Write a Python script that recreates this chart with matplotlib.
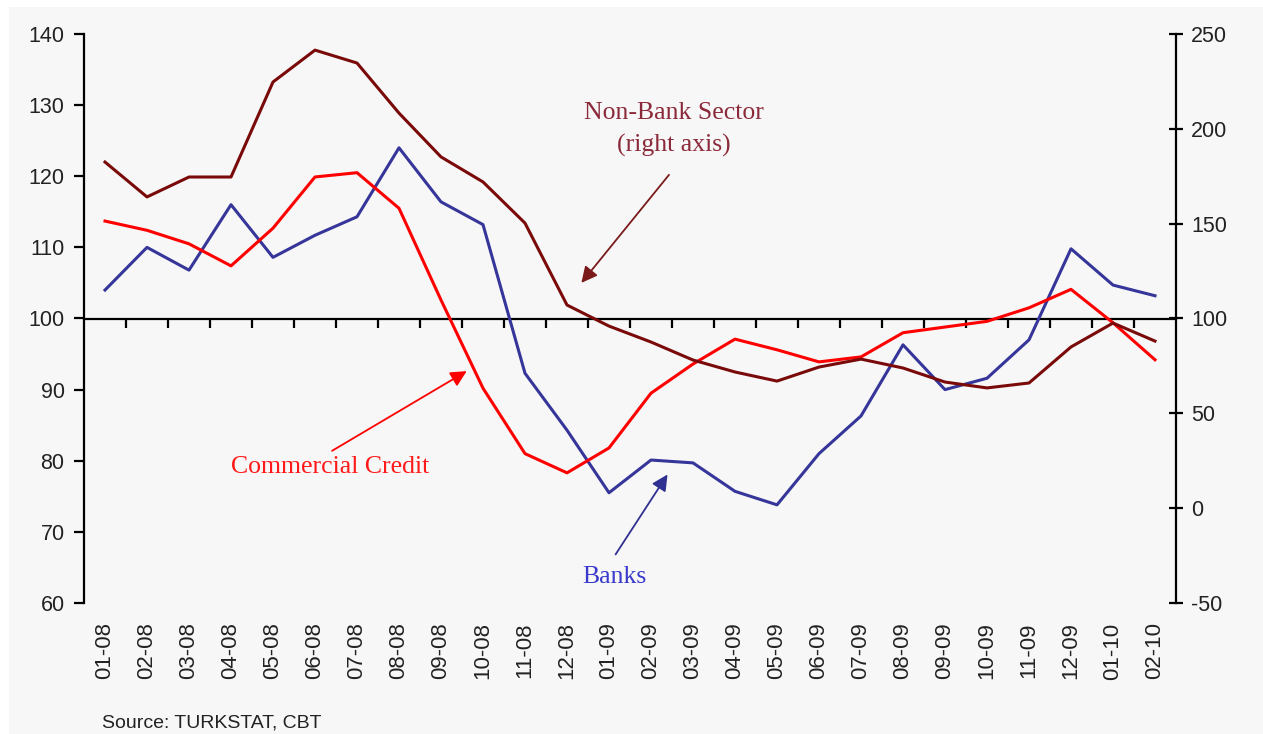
import matplotlib.pyplot as plt
import numpy as np
from matplotlib.patches import Rectangle

plt.rcParams["axes.unicode_minus"] = False

months = ["01-08", "02-08", "03-08", "04-08", "05-08", "06-08", "07-08", "08-08",
          "09-08", "10-08", "11-08", "12-08", "01-09", "02-09", "03-09", "04-09",
          "05-09", "06-09", "07-09", "08-09", "09-09", "10-09", "11-09", "12-09",
          "01-10", "02-10"]

# left axis
banks = [104.0, 110.0, 106.8, 116.0, 108.6, 111.7, 114.3, 124.0,
         116.4, 113.2, 92.3, 84.3, 75.5, 80.1, 79.7, 75.7,
         73.8, 81.0, 86.3, 96.3, 90.0, 91.6, 97.0, 109.8,
         104.7, 103.2]
commercial = [113.7, 112.4, 110.5, 107.4, 112.7, 119.9, 120.5, 115.5,
              102.6, 90.2, 81.0, 78.3, 81.8, 89.5, 93.6, 97.1,
              95.6, 93.9, 94.6, 98.0, 98.8, 99.6, 101.5, 104.1,
              99.4, 94.2]
# right axis
non_bank = [182.5, 164.1, 174.6, 174.6, 224.7, 241.5, 234.7, 208.3,
            185.2, 172.0, 150.3, 107.1, 96.0, 87.6, 78.1, 71.8,
            67.0, 74.4, 78.6, 73.9, 66.5, 63.4, 66.0, 85.0,
            97.6, 88.1]

left_ticks = np.arange(60, 141, 10)
right_ticks = np.arange(-50, 251, 50)

x = np.arange(len(months))

fig = plt.figure(figsize=(12.63, 7.34), dpi=100)
fig.patch.set_facecolor("white")
fig.patches.append(Rectangle((9 / 1263, 0), 1, 1 - 7 / 734, transform=fig.transFigure,
                             facecolor="#f7f7f7", edgecolor="none", zorder=-10))

ax = fig.add_axes([84 / 1263, 1 - 603 / 734, (1176 - 84) / 1263, (603 - 34) / 734])
ax.set_facecolor("none")
ax2 = ax.twinx()

ax.plot(x, banks, color="#35359a", lw=2.2, zorder=3)
ax.plot(x, commercial, color="#ff0000", lw=2.2, zorder=3)
ax2.plot(x, non_bank, color="#7a0a0a", lw=2.2, zorder=3)

ax.set_xlim(-0.5, len(months) - 0.5)
ax.set_ylim(60, 140)
ax2.set_ylim(-50, 250)
ax.set_yticks(left_ticks)
ax2.set_yticks(right_ticks)

for a in (ax, ax2):
    for s in ("top", "bottom"):
        a.spines[s].set_visible(False)
    a.spines["left"].set_linewidth(1.6)
    a.spines["right"].set_linewidth(1.6)
ax.spines["right"].set_visible(False)
ax2.spines["left"].set_visible(False)

ax.set_xticks(x)
ax.set_xticklabels(months, rotation=90, fontsize=16, family="Liberation Sans", color="#222222")
ax.tick_params(axis="x", length=0, pad=14)
ax.tick_params(axis="y", direction="out", length=7, width=1.6, pad=7,
               labelsize=15.5, labelcolor="#222222")
ax2.tick_params(axis="y", direction="inout", length=9.5, width=1.6, pad=6,
                labelsize=15.5, labelcolor="#222222")
for lbl in ax.get_yticklabels() + ax2.get_yticklabels():
    lbl.set_family("Liberation Sans")

# horizontal axis line at 100 with ticks between months
secax = ax.secondary_xaxis(0.5)
secax.set_alignment("bottom")
secax.spines["bottom"].set_linewidth(1.6)
secax.set_xticks(np.arange(0.5, len(months) - 1, 1))
secax.tick_params(axis="x", direction="out", length=6.5, width=1.6, labelbottom=False)

serif = "Liberation Serif"
ax.text(13.55, 126.6, "Non-Bank Sector\n(right axis)", ha="center", va="center",
        fontsize=18.5, family=serif, color="#8b2a3a", linespacing=1.55)
ax.annotate("", xy=(11.3, 104.7), xytext=(13.47, 120.5),
            arrowprops=dict(arrowstyle="-|>", color="#7a1a1a", lw=1.3, mutation_scale=24))

ax.text(5.35, 79.1, "Commercial Credit", ha="center", va="center",
        fontsize=18.5, family=serif, color="#ff1a1a")
ax.annotate("", xy=(8.67, 92.8), xytext=(5.35, 81.2),
            arrowprops=dict(arrowstyle="-|>", color="#ff0000", lw=1.3, mutation_scale=24))

ax.text(12.12, 63.6, "Banks", ha="center", va="center",
        fontsize=18.5, family=serif, color="#3a3acc")
ax.annotate("", xy=(13.43, 78.4), xytext=(12.12, 66.5),
            arrowprops=dict(arrowstyle="-|>", color="#303090", lw=1.3, mutation_scale=24))

fig.text(102 / 1263, 7 / 734, "Source: TURKSTAT, CBT", ha="left", va="baseline",
         fontsize=14, family="Liberation Sans", color="#222222")

fig.savefig("out.png", dpi=100, facecolor=fig.get_facecolor())
